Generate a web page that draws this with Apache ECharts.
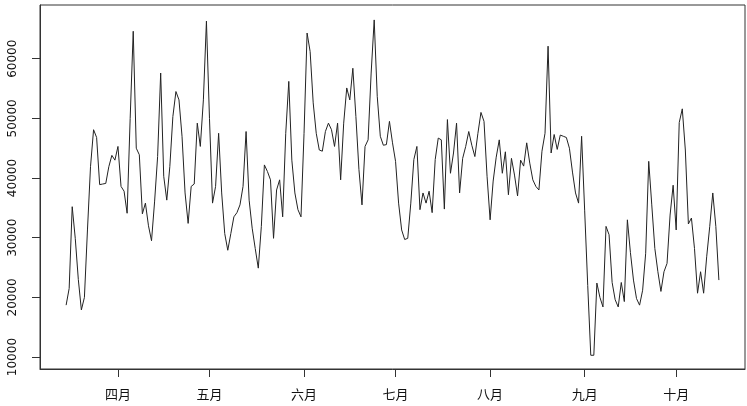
<!DOCTYPE html>
<html>
<head>
<meta charset="utf-8">
<script src="https://cdn.jsdelivr.net/npm/echarts@6/dist/echarts.min.js"></script>
<style>
  html, body { margin: 0; padding: 0; background: #fff; }
  #chart { width: 747px; height: 406px; }
</style>
</head>
<body>
<div id="chart"></div>
<script>
// daily series, first day is 2015-03-15
const startDate = [2015, 2, 15];
const values = [
  18700, 21500, 35200, 29900, 23000, 17900, 20000, 31300, 41900, 48100,
  46800, 38900, 39000, 39100, 41900, 43800, 43000, 45300, 38600, 37800,
  34100, 50000, 64600, 45000, 43900, 34000, 35800, 32000, 29500, 36000,
  43600, 57600, 40300, 36300, 41900, 50300, 54500, 53100, 47000, 37500,
  32400, 38600, 39000, 49200, 45300, 53100, 66300, 50000, 35800, 38600,
  47500, 37500, 30700, 27900, 30700, 33500, 34200, 35500, 38600, 47800,
  36300, 31600, 28200, 24900, 31900, 42200, 41100, 39700, 29900, 38000,
  39700, 33500, 47500, 56200, 43000, 37500, 34700, 33500, 47500, 64300,
  61200, 52600, 47500, 44700, 44500, 47800, 49200, 48100, 45300, 49200,
  39700, 49200, 55100, 53100, 58400, 50300, 41400, 35500, 45300, 46400,
  57600, 66500, 53700, 47000, 45500, 45600, 49500, 45900, 42800, 35800,
  31300, 29700, 29900, 35800, 43100, 45300, 34700, 37500, 35800, 37800,
  34200, 43100, 46700, 46400, 34800, 49800, 40800, 44200, 49200, 37500,
  43300, 45300, 47800, 45500, 43600, 47500, 51000, 49500, 40300, 33000,
  39500, 43500, 46400, 40800, 44400, 37200, 43300, 40500, 37000, 43000,
  42000, 45900, 42500, 39700, 38600, 38000, 44500, 47500, 62100, 44200,
  47300, 44800, 47200, 47000, 46800, 45000, 41000, 37500, 35800, 47000,
  34500, 22000, 10300, 10300, 22400, 20000, 18400, 31900, 30500, 22500,
  19600, 18400, 22500, 19300, 33000, 27500, 22900, 19800, 18700, 21200,
  27400, 42800, 35500, 28200, 24300, 21000, 24300, 25700, 33800, 38800,
  31300, 49300, 51600, 44700, 32300, 33300, 28200, 20700, 24300, 20700,
  26800, 31900, 37500, 31900, 22900
];
const monthStarts = [[2015, 3, 1], [2015, 4, 1], [2015, 5, 1], [2015, 6, 1], [2015, 7, 1], [2015, 8, 1], [2015, 9, 1]];
const monthLabels = ['四月', '五月', '六月', '七月', '八月', '九月', '十月'];
const yTicks = [10000, 20000, 30000, 40000, 50000, 60000];

// x runs in days counted from the first date
const DAY = 86400000;
const t0 = Date.UTC(startDate[0], startDate[1], startDate[2]);
const seriesData = values.map((v, i) => [i, v]);
const monthDays = monthStarts.map(m => Math.round((Date.UTC(m[0], m[1], m[2]) - t0) / DAY));
const span = values.length - 1;

const chart = echarts.init(document.getElementById('chart'));
chart.setOption({
  animation: false,
  grid: {
    left: 40, right: 2, top: 5, bottom: 37,
    show: true, borderColor: '#333', borderWidth: 1
  },
  xAxis: {
    type: 'value',
    min: -span * 0.04,
    max: span * 1.04,
    splitLine: { show: false },
    axisLine: { show: true, onZero: false, lineStyle: { color: '#333', width: 1 } },
    axisTick: {
      customValues: monthDays, length: 8,
      lineStyle: { color: '#333', width: 1 }
    },
    axisLabel: {
      customValues: monthDays,
      margin: 19,
      color: '#111',
      fontSize: 13,
      fontFamily: 'Noto Sans CJK SC',
      formatter: function (val) {
        const k = monthDays.indexOf(Math.round(val));
        return k >= 0 ? monthLabels[k] : '';
      }
    }
  },
  yAxis: {
    type: 'value',
    min: 8000,
    max: 69000,
    splitLine: { show: false },
    axisLine: { show: true, onZero: false, lineStyle: { color: '#333', width: 1 } },
    axisTick: {
      customValues: yTicks, length: 8,
      lineStyle: { color: '#333', width: 1 }
    },
    axisLabel: {
      customValues: yTicks,
      rotate: 90,
      margin: 21,
      color: '#111',
      fontSize: 12,
      fontFamily: 'DejaVu Sans',
      formatter: function (val) { return String(Math.round(val)); }
    }
  },
  series: [{
    type: 'line',
    data: seriesData,
    showSymbol: false,
    lineStyle: { color: '#222', width: 1 }
  }]
});
</script>
</body>
</html>
